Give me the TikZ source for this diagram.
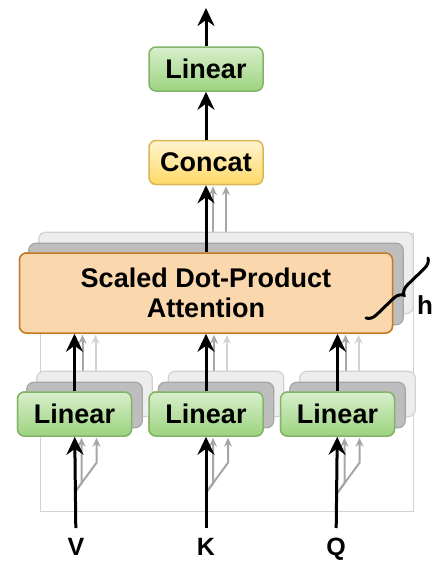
\documentclass[tikz,border=0pt]{standalone}
\usepackage{fontspec}
\setmainfont{Liberation Sans}
\usetikzlibrary{positioning, calc, arrows.meta, decorations.pathreplacing}
\definecolor{linTop}{HTML}{D8EFCD}
\definecolor{linBot}{HTML}{9CD37E}
\definecolor{linLine}{HTML}{82B366}
\definecolor{catTop}{HTML}{FFF4D0}
\definecolor{catBot}{HTML}{FFD966}
\definecolor{catLine}{HTML}{D6B656}
\definecolor{attFill}{HTML}{FAD7AC}
\definecolor{attLine}{HTML}{C47A22}
\definecolor{ghostD}{HTML}{BDBDBD}
\definecolor{ghostDLine}{HTML}{A6A6A6}
\definecolor{ghostL}{HTML}{EDEDED}
\definecolor{ghostLLine}{HTML}{D2D2D2}

\begin{document}
\begin{tikzpicture}[x=1pt, y=-1pt, node distance=16pt,
  box/.style={rounded corners=7pt, line width=1.5pt, minimum height=44pt, inner sep=2pt, font=\fontsize{27}{30}\selectfont\bfseries},
  lin/.style={box, draw=linLine, top color=linTop, bottom color=linBot, minimum width=114pt},
  cat/.style={box, draw=catLine, top color=catTop, bottom color=catBot, minimum width=114pt},
  att/.style={box, draw=attLine, fill=attFill, minimum width=373pt, minimum height=80pt, align=center},
  lbl/.style={inner sep=0pt, outer sep=9pt, text height=18pt, text depth=0pt, font=\fontsize{25}{30}\selectfont\bfseries},
  arr/.style={line width=3pt, -{Stealth[length=18pt, width=17pt, inset=6pt]}},
  ghost/.style={line width=2pt, draw=#1, -{Stealth[length=9pt, width=8pt, inset=3pt]}, #1},
  shD/.style={rounded corners=7pt, line width=1.2pt, draw=ghostDLine, fill=ghostD},
  shL/.style={rounded corners=7pt, line width=1.2pt, draw=ghostLLine, fill=ghostL}]
  \useasboundingbox (0,0) rectangle (433,563);
  \node[lin] (linK) at (206,414) {Linear};
  \node[lin] (linV) [left=of linK] {Linear};
  \node[lin] (linQ) [right=of linK] {Linear};
  \node[att] (attn) at (206,293) {Scaled Dot-Product\\Attention};
  \node[cat] (concat) [above=67pt of attn] {Concat};
  \node[lin] (lin) [above=48pt of concat] {Linear};
  \coordinate (out) at (206,8);
  \node[lbl] (V) at (76,546) {V};
  \node[lbl] (K) at (206,546) {K};
  \node[lbl] (Q) at (336,546) {Q};
  \node[font=\fontsize{26}{30}\selectfont\bfseries] (h) at (425,305) {h};
  % copies behind
  \draw[ghostLLine, line width=0.8pt] (40,233) rectangle (413,511);
  \foreach \n in {V,K,Q} {
    \draw[ghost=ghostDLine] ($(lin\n.south)+(0,56)$) -- ++(7,-9.5) -- ($(lin\n.south)+(7,1)$);
    \draw[ghost=ghostDLine] ($(lin\n.south)+(0,56)$) -- ++(22,-30) -- ($(lin\n.south)+(22,1)$);
    \draw[ghost=ghostDLine] ($(lin\n.north)+(8,0)$) -- ($(lin\n.north |- attn.south)+(8,1)$);
    \draw[ghost=ghostLLine] ($(lin\n.north)+(21,0)$) -- ($(lin\n.north |- attn.south)+(21,1)$);
  }
  \draw[ghost=ghostDLine] ($(attn.north)+(7,0)$) -- ($(concat.south)+(7,1)$);
  \draw[ghost=ghostDLine] ($(attn.north)+(20,0)$) -- ($(concat.south)+(20,1)$);
  \foreach \n in {linV,linK,linQ,attn} {
    \draw[shL] ($(\n.south west)+(20,-20)$) rectangle ($(\n.north east)+(20,-20)$);
    \draw[shD] ($(\n.south west)+(10,-9)$) rectangle ($(\n.north east)+(10,-9)$);
  }
  \node[lin] at (linV) {Linear};
  \node[lin] at (linK) {Linear};
  \node[lin] at (linQ) {Linear};
  \node[att] at (attn) {Scaled Dot-Product\\Attention};
  % arrows
  \foreach \n in {V,K,Q} {
    \draw[arr] (\n) -- (lin\n);
    \draw[arr] (lin\n) -- (lin\n.north |- attn.south);
  }
  \draw[arr] (attn) -- (concat);
  \draw[arr] (concat) -- (lin);
  \draw[arr] (lin) -- (out);
  \draw[line width=3pt, line cap=round, decorate, decoration={brace, amplitude=10pt}] (428,258) -- (366,318);
\end{tikzpicture}
\end{document}
